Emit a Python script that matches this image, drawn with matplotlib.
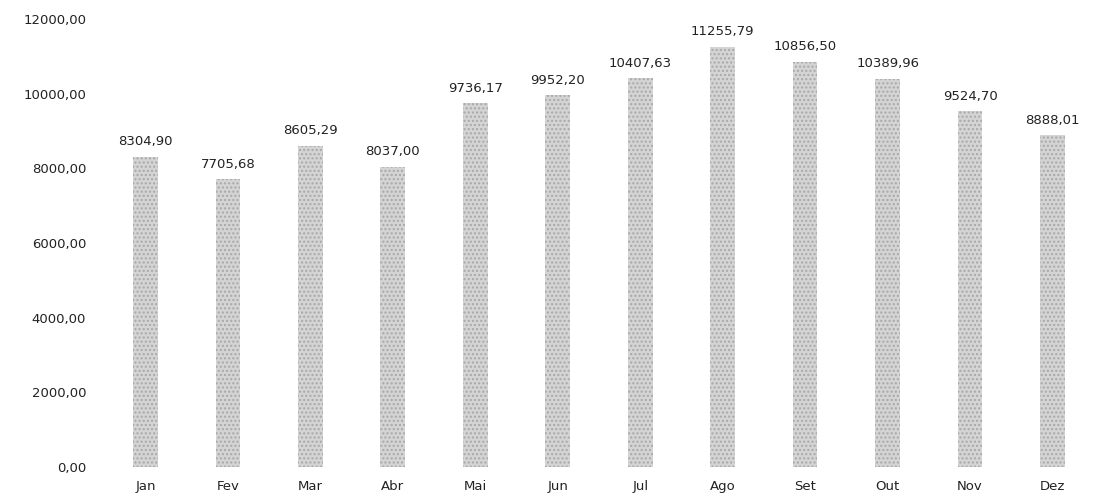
import matplotlib
matplotlib.use("Agg")
import matplotlib.pyplot as plt

months = ["Jan", "Fev", "Mar", "Abr", "Mai", "Jun", "Jul", "Ago", "Set", "Out", "Nov", "Dez"]
values = [8304.90, 7705.68, 8605.29, 8037.00, 9736.17, 9952.20, 10407.63,
          11255.79, 10856.50, 10389.96, 9524.70, 8888.01]
yticks = [0, 2000, 4000, 6000, 8000, 10000, 12000]

def fmt(v):
    return f"{v:.2f}".replace(".", ",")

plt.rcParams['font.family'] = ['DejaVu Sans']
fig = plt.figure(figsize=(10.97, 4.98), dpi=100)
ax = fig.add_axes([0.095, 0.062, 0.902, 0.9])
x = list(range(len(months)))
ax.bar(x, values, width=0.3, color="#d4d4d4", edgecolor="#a8a8a8", hatch="....", linewidth=0)
for xi, v in zip(x, values):
    ax.text(xi, v + 230, fmt(v), ha="center", va="bottom", fontsize=9.5, color="#222222")
ax.set_xlim(-0.5, 11.5)
ax.set_ylim(0, 12000)
ax.set_yticks(yticks)
ax.set_yticklabels([fmt(t) for t in yticks], fontsize=9.5, color="#222222")
ax.set_xticks(x)
ax.set_xticklabels(months, fontsize=9.5, color="#222222")
ax.tick_params(length=0, pad=9)
ax.tick_params(axis="y", pad=13)
for s in ax.spines.values():
    s.set_visible(False)
fig.savefig("out.png", dpi=100)
